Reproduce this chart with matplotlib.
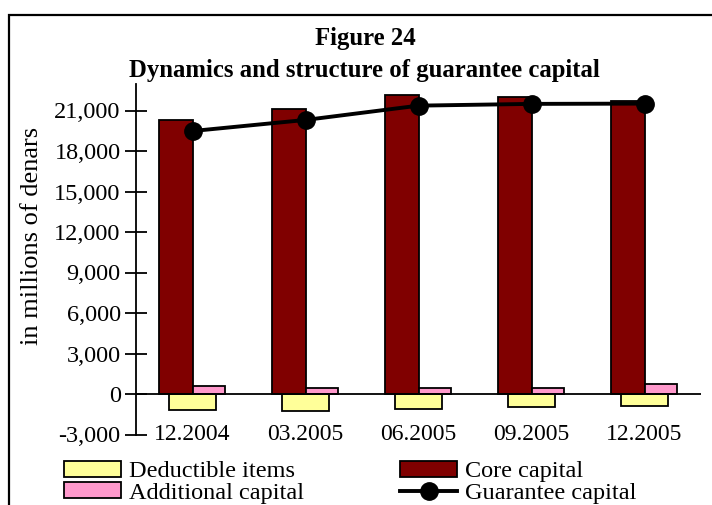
import matplotlib
matplotlib.use("Agg")
import matplotlib.pyplot as plt
from matplotlib.patches import Rectangle
from matplotlib.lines import Line2D
import numpy as np

categories = ["12.2004", "03.2005", "06.2005", "09.2005", "12.2005"]
deductible = [-1200, -1230, -1090, -940, -900]
core = [20320, 21120, 22180, 21980, 21690]
additional = [610, 430, 430, 430, 740]
guarantee = [19480, 20300, 21360, 21490, 21510]
yticks = [-3000, 0, 3000, 6000, 9000, 12000, 15000, 18000, 21000]

plt.rcParams['font.family'] = ['Liberation Serif', 'DejaVu Serif']

W, H = 712, 505
fig = plt.figure(figsize=(W / 100, H / 100), dpi=100)

def fx(px):
    return px / W

def fy(py):
    return 1 - py / H

ax = fig.add_axes([fx(136), fy(434.5), fx(701) - fx(136), fy(83.5) - fy(434.5)])

x = np.arange(len(categories))
c_yellow = "#FFFF99"
c_core = "#800000"
c_pink = "#FF99CC"

ax.bar(x, deductible, width=0.42, color=c_yellow, edgecolor="black", linewidth=1.3, zorder=2)
ax.bar(x - 0.15, core, width=0.30, color=c_core, edgecolor="black", linewidth=1.3, zorder=2)
ax.bar(x + 0.145, additional, width=0.29, color=c_pink, edgecolor="black", linewidth=1.3, zorder=2)
ax.plot(x, guarantee, color="black", linewidth=2.8, marker="o", markersize=12.5, zorder=4)
ax.axhline(0, color="black", linewidth=1.3, zorder=3)

ax.set_xlim(-0.5, len(categories) - 0.5)
ax.set_ylim(-3000, 23000)
ax.set_yticks(yticks)
ax.set_yticklabels([f"{v:,}" for v in yticks], fontsize=17.5)
ax.tick_params(axis="y", direction="inout", length=16, width=1.3, pad=3)
ax.set_xticks(x)
ax.set_xticklabels(categories, fontsize=17)
ax.tick_params(axis="x", length=0, pad=0)
for lab in ax.get_xticklabels():
    lab.set_va("center")

for s in ["top", "right", "bottom"]:
    ax.spines[s].set_visible(False)
ax.spines["left"].set_linewidth(1.3)
ax.patch.set_alpha(0)

fig.text(fx(32), fy(236), "in millions of denars", rotation=90, ha="center", va="center", fontsize=19)
fig.text(fx(365), fy(38), "Figure 24", ha="center", va="center", fontsize=17.8, fontweight="bold")
fig.text(fx(364), fy(70), "Dynamics and structure of guarantee capital", ha="center", va="center",
         fontsize=17.8, fontweight="bold")

# outer frame
fig.patches.append(Rectangle((fx(9), -0.1), 1.2, fy(15) + 0.1, transform=fig.transFigure,
                             fill=False, edgecolor="black", linewidth=1.6, zorder=0))

h_ded = Rectangle((0, 0), 1, 1, facecolor=c_yellow, edgecolor="black", linewidth=1.3)
h_add = Rectangle((0, 0), 1, 1, facecolor=c_pink, edgecolor="black", linewidth=1.3)
h_core = Rectangle((0, 0), 1, 1, facecolor=c_core, edgecolor="black", linewidth=1.3)
h_gar = Line2D([], [], color="black", linewidth=2.8, marker="o", markersize=12.5)

leg_kw = dict(frameon=False, fontsize=17.5, handlelength=2.35, handleheight=0.62, handletextpad=0.33,
              labelspacing=0.0, borderpad=0, borderaxespad=0, loc="upper left")
fig.legend([h_ded, h_add], ["Deductible items", "Additional capital"],
           bbox_to_anchor=(fx(64), fy(461)), **leg_kw)
fig.legend([h_core, h_gar], ["Core capital", "Guarantee capital"],
           bbox_to_anchor=(fx(400), fy(461)), **leg_kw)

fig.savefig("out.png", dpi=100)
